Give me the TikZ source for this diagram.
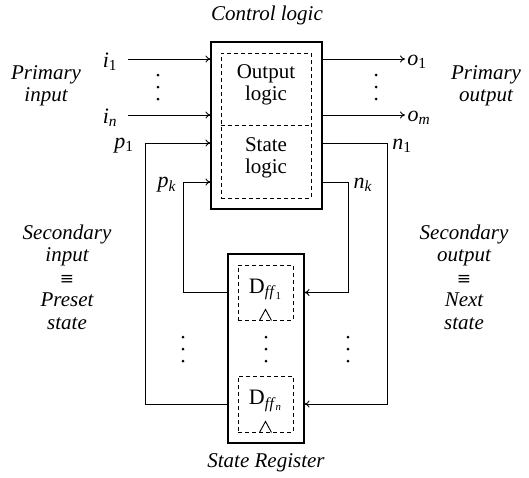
\documentclass[tikz,border=0pt]{standalone}
\usepackage{fontspec}
\setmainfont{Liberation Serif}
\newfontfamily\eqfont{DejaVu Serif}
\usetikzlibrary{arrows.meta}
\newcommand\lbsub[2]{\textit{#1}\textsubscript{#2}}
\newcommand\myequiv{{\eqfont\fontsize{17}{17}\selectfont ≡}}
\begin{document}
\begin{tikzpicture}[x=1pt,y=-1pt,
  font=\fontsize{21}{22.5}\selectfont,
  box/.style={draw, line width=1.1pt, inner sep=0pt},
  dbox/.style={draw, line width=0.9pt, dash pattern=on 4pt off 3pt, inner sep=0pt},
  wire/.style={line width=0.9pt},
  arr/.style={wire, -{To[length=5pt,width=7pt]}},
  lab/.style={font=\fontsize{21}{22.5}\selectfont\itshape, align=center},
  mlab/.style={inner sep=0pt, font=\fontsize{22}{22.5}\selectfont},
  txt/.style={align=center, inner sep=0pt}]
\useasboundingbox (0,0) rectangle (529,477);

% control logic
\node[box, minimum width=111pt, minimum height=167pt] (ctrl) at (266.5,125.5) {};
\node[dbox, minimum width=90pt, minimum height=145pt] (lg) at (266,125.5) {};
\draw[wire, dash pattern=on 4pt off 3pt] (lg.west) -- (lg.east);
\node[txt] (ot) at (266,85) {Output\\logic};
\node[txt] (st) at (266,158) {State\\logic};
\node[lab] (cl) at (267,15) {Control logic};

% state register
\node[box, minimum width=76pt, minimum height=189pt] (reg) at (266,348.5) {};
\node[dbox, minimum width=55pt, minimum height=55pt] (ff1) at (265.5,292.5) {};
\node[dbox, minimum width=55pt, minimum height=56pt] (ffn) at (265.5,404) {};
\node[mlab] (d1) at ([yshift=3pt]ff1.center) {D\textsubscript{\textit{f\kern0.4pt f}\textsubscript{1}}};
\node[mlab] (dn) at ([yshift=3pt]ffn.center) {D\textsubscript{\textit{f\kern0.4pt f}\textsubscript{\textit{n}}}};
\draw[wire] ([xshift=-6pt]ff1.south) -- ([yshift=11pt]ff1.south) -- ([xshift=6pt]ff1.south);
\draw[wire] ([xshift=-6pt]ffn.south) -- ([yshift=11pt]ffn.south) -- ([xshift=6pt]ffn.south);
\node[lab] (sr) at (266,463) {State Register};

% primary inputs
\coordinate (i1w) at (128,59);
\coordinate (inw) at (128,115);
\node[mlab] (i1) at (110,62) {\lbsub{i}{1}};
\node[mlab] (in) at (110,118) {\lbsub{i}{\textit{n}}};
\draw[arr] (i1w) -- (i1w -| ctrl.west);
\draw[arr] (inw) -- (inw -| ctrl.west);

% primary outputs
\coordinate (o1e) at (405,59);
\coordinate (ome) at (405,115);
\node[mlab] (o1) at (417,62) {\lbsub{o}{1}};
\node[mlab] (om) at (419,118) {\lbsub{o}{\textit{m}}};
\draw[arr] (o1e -| ctrl.east) -- (o1e);
\draw[arr] (ome -| ctrl.east) -- (ome);

% secondary inputs
\coordinate (pc1) at (145,143);
\coordinate (pck) at (183,182);
\node[mlab] (p1) at (124,146) {\lbsub{p}{1}};
\node[mlab] (pk) at (167,185) {\lbsub{p}{\textit{k}}};
\draw[arr] (ffn.center -| reg.west) -| (pc1) -- (pc1 -| ctrl.west);
\draw[arr] (ff1.center -| reg.west) -| (pck) -- (pck -| ctrl.west);

% secondary outputs
\coordinate (nc1) at (387,143);
\coordinate (nck) at (348,182);
\node[mlab] (n1) at (402,146) {\lbsub{n}{1}};
\node[mlab] (nk) at (363,185) {\lbsub{n}{\textit{k}}};
\draw[arr] (nc1 -| ctrl.east) -- (nc1) |- (ffn.center -| reg.east);
\draw[arr] (nck -| ctrl.east) -- (nck) |- (ff1.center -| reg.east);

% side labels
\node[lab] (pin) at (46,86) {Primary\\input};
\node[lab] (pout) at (486,86) {Primary\\output};
\node[lab] (sin) at (67,277) {Secondary\\input\\\myequiv\\Preset\\state};
\node[lab] (sout) at (464,277) {Secondary\\output\\\myequiv\\Next\\state};

% dots
\foreach \x in {158,376}
  \foreach \y in {75,87,99}
    \fill (\x,\y) circle (1.5pt);
\foreach \x in {183,266,348}
  \foreach \y in {337,349,361}
    \fill (\x,\y) circle (1.5pt);
\end{tikzpicture}
\end{document}
